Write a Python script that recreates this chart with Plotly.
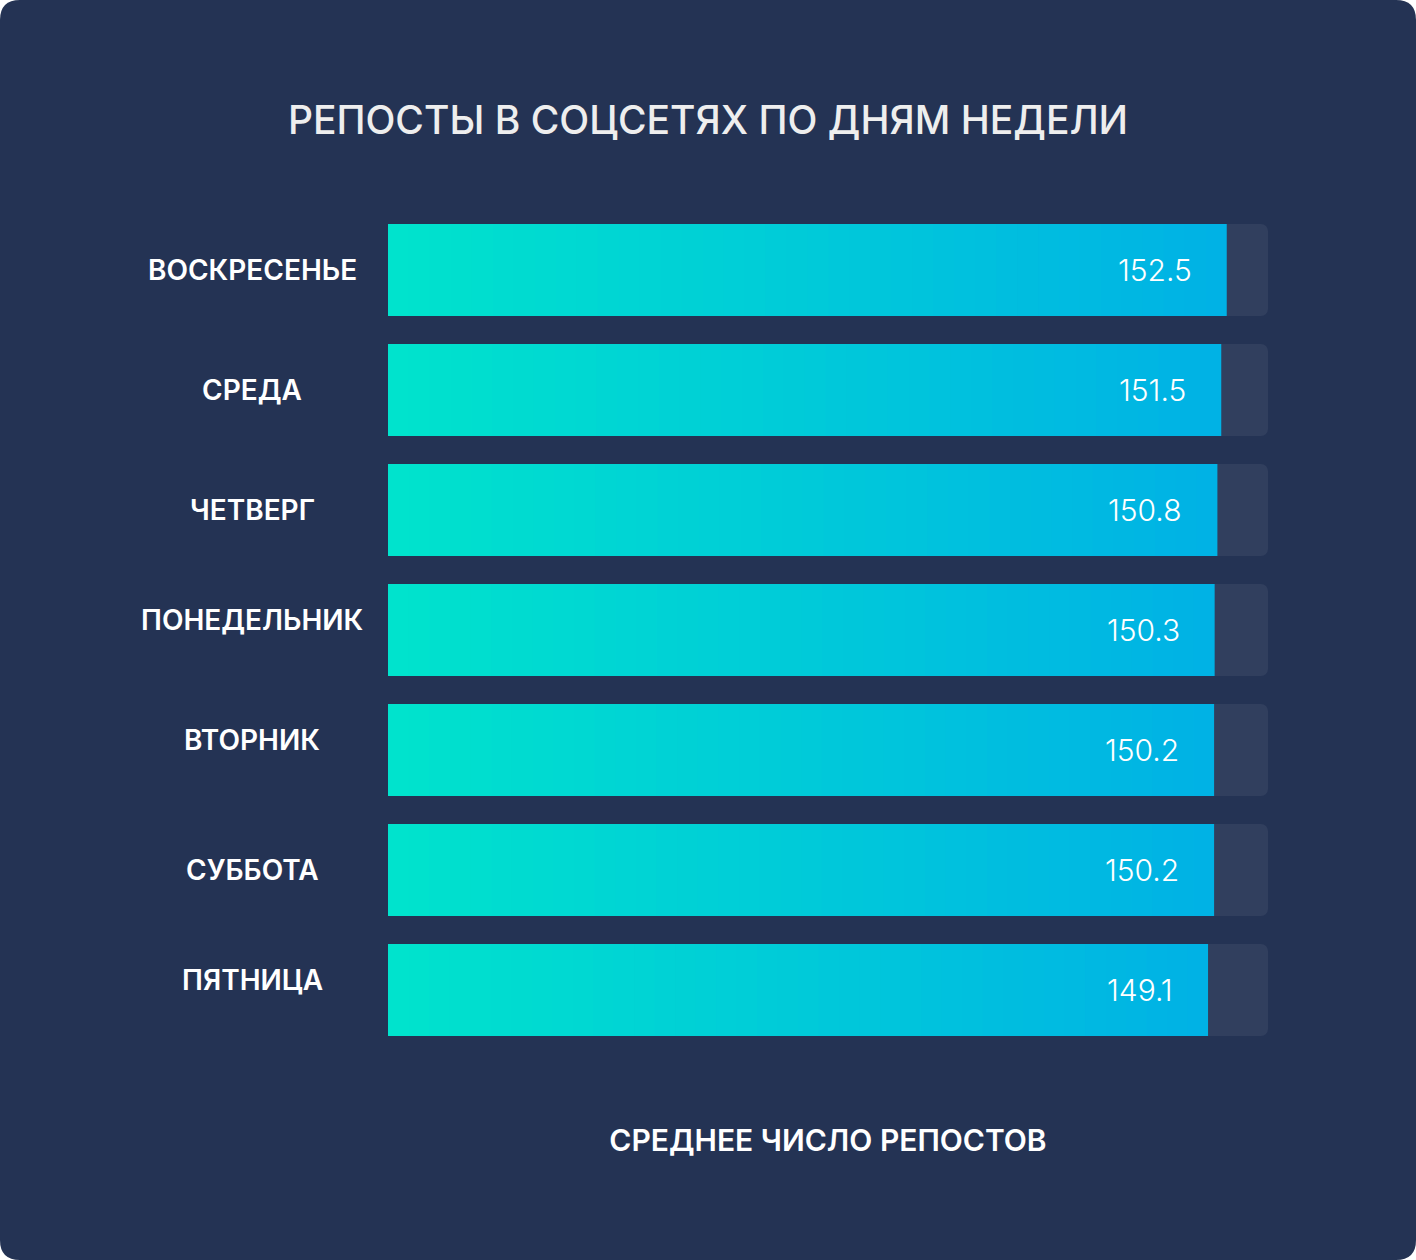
import plotly.graph_objects as go

# 데이터
days = ['ВОСКРЕСЕНЬЕ', 'СРЕДА', 'ЧЕТВЕРГ', 'ПОНЕДЕЛЬНИК', 'ВТОРНИК', 'СУББОТА', 'ПЯТНИЦА']
reposts = [152.5, 151.5, 150.8, 150.3, 150.2, 150.2, 149.1]
track_max = 160

title = 'РЕПОСТЫ В СОЦСЕТЯХ ПО ДНЯМ НЕДЕЛИ'
x_title = 'СРЕДНЕЕ ЧИСЛО РЕПОСТОВ'

# 스타일
W, H = 1416, 1260
L, R, T, B = 388, 148, 210, 210
bg = '#243354'
track_color = '#313F5E'
grad_start = (0, 228, 204)
grad_end = (0, 178, 229)
n_steps = 40
label_shift = [0, 0, 0, 10, 10, 0, 10]
font = 'Inter'


def px_x(p):
    return (p - L) / (W - L - R)


def px_y(p):
    return (H - B - p) / (H - T - B)


def mix(t):
    c = [round(a + (b - a) * t) for a, b in zip(grad_start, grad_end)]
    return f'rgb({c[0]},{c[1]},{c[2]})'


fig = go.Figure()

# 배경 트랙
fig.add_trace(go.Bar(x=[track_max] * len(days), y=days, orientation='h',
                     marker=dict(color=track_color, line_width=0, cornerradius=7),
                     width=0.767, hoverinfo='skip', showlegend=False))

# 그라데이션 막대 (긴 것부터 겹쳐 그림)
for k in range(n_steps, 0, -1):
    frac = k / n_steps
    fig.add_trace(go.Bar(x=[v * frac for v in reposts], y=days, orientation='h',
                         marker=dict(color=mix(frac), line_width=0,
                                     cornerradius=7 if k == n_steps else 0),
                         width=0.767, hoverinfo='skip', showlegend=False))

# 값 라벨
for d, v in zip(days, reposts):
    fig.add_annotation(x=v, y=d, text=f'{v}', showarrow=False, xanchor='right',
                       xshift=-33, font=dict(family=font, size=30, color='white', weight=300))

# 요일 라벨
for d, s in zip(days, label_shift):
    fig.add_annotation(x=px_x(252), xref='paper', y=d, text=d, showarrow=False,
                       xanchor='center', yshift=s,
                       font=dict(family=font, size=28, color='white', weight=600))

# 둥근 카드 배경
r = 20
pts = dict(l=px_x(0), r=px_x(W), t=px_y(0), b=px_y(H),
           lr=px_x(r), rr=px_x(W - r), tr=px_y(r), br=px_y(H - r))
path = (f"M {pts['lr']},{pts['t']} L {pts['rr']},{pts['t']} Q {pts['r']},{pts['t']} {pts['r']},{pts['tr']} "
        f"L {pts['r']},{pts['br']} Q {pts['r']},{pts['b']} {pts['rr']},{pts['b']} "
        f"L {pts['lr']},{pts['b']} Q {pts['l']},{pts['b']} {pts['l']},{pts['br']} "
        f"L {pts['l']},{pts['tr']} Q {pts['l']},{pts['t']} {pts['lr']},{pts['t']} Z")
fig.add_shape(type='path', path=path, xref='paper', yref='paper',
              fillcolor=bg, line_width=0, layer='below')

fig.update_layout(
    width=W, height=H,
    margin=dict(l=L, r=R, t=T, b=B),
    paper_bgcolor='white', plot_bgcolor='rgba(0,0,0,0)',
    barmode='overlay',
    title=dict(text=title, x=0.5, xref='container', xanchor='center', y=1 - 120 / H, yanchor='middle',
               font=dict(family=font, size=39, color='#EEEEEE', weight=500)),
    showlegend=False,
)
fig.update_xaxes(range=[0, track_max], showgrid=False, zeroline=False, showticklabels=False,
                 fixedrange=True,
                 title=dict(text=x_title, standoff=79,
                            font=dict(family=font, size=30, color='white', weight=600)))
fig.update_yaxes(categoryorder='array', categoryarray=days, range=[6.5, -0.5],
                 showgrid=False, zeroline=False, showticklabels=False, fixedrange=True)

# 페이지 여백 제거
fig.write_html('out.html', config={'displayModeBar': False},
               post_script="document.body.style.margin='0';")
